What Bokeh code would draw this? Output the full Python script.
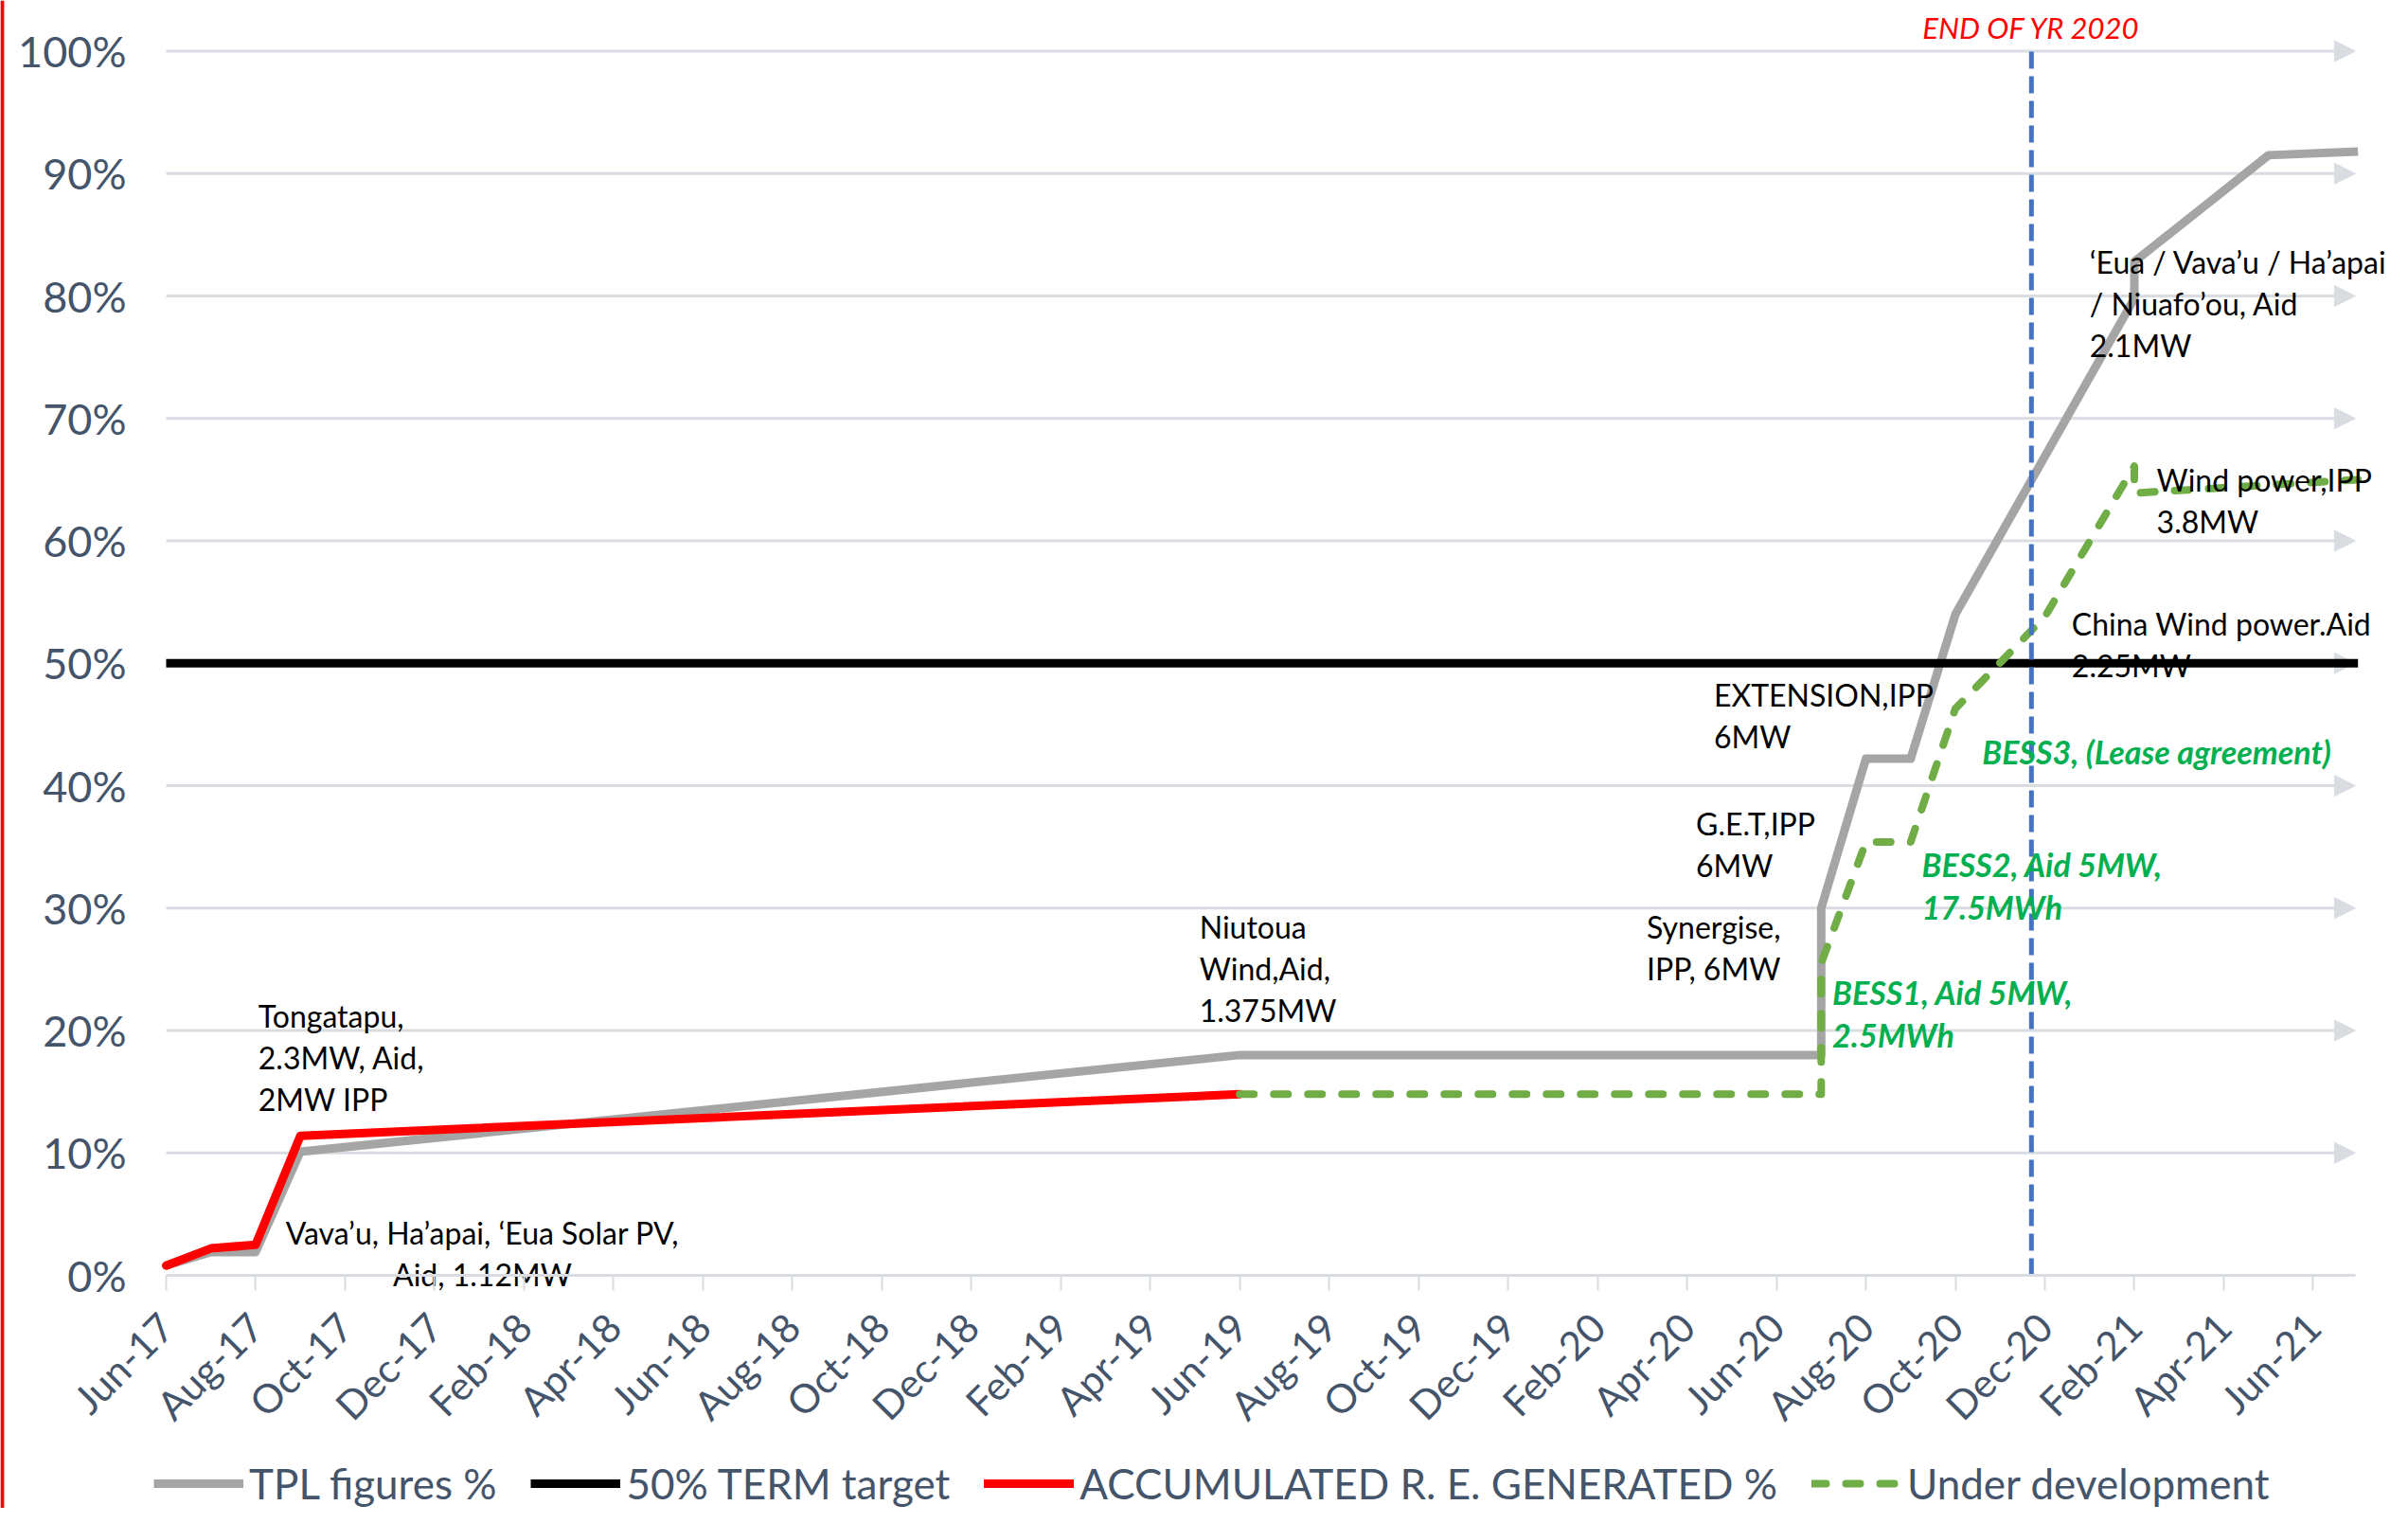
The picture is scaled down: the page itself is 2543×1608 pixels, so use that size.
import math
from bokeh.plotting import figure
from bokeh.models import (ColumnDataSource, Legend, LegendItem, FixedTicker,
                          Range1d, Arrow, NormalHead, Span)
from bokeh.core.properties import value
from bokeh.embed import file_html
from bokeh.resources import INLINE

# ---------------- data ----------------
tick_labels = ["Jun-17", "Aug-17", "Oct-17", "Dec-17", "Feb-18", "Apr-18", "Jun-18",
               "Aug-18", "Oct-18", "Dec-18", "Feb-19", "Apr-19", "Jun-19", "Aug-19",
               "Oct-19", "Dec-19", "Feb-20", "Apr-20", "Jun-20", "Aug-20", "Oct-20",
               "Dec-20", "Feb-21", "Apr-21", "Jun-21"]
tick_months = [2 * i for i in range(len(tick_labels))]   # months since Jun-17
y_ticks = [0, 10, 20, 30, 40, 50, 60, 70, 80, 90, 100]

# TPL figures %
tpl_month = [0, 1, 2, 3, 24, 37, 37, 38, 39, 40, 44, 44, 47, 49]
tpl_pct = [0.8, 1.9, 1.9, 10.1, 18.0, 18.0, 30.0, 42.2, 42.2, 54.0, 79.8, 82.8, 91.5, 91.8]

# 50% TERM target
target_month = [0, 49]
target_pct = [50, 50]

# ACCUMULATED R. E. GENERATED %
re_month = [0, 1, 2, 3, 24]
re_pct = [0.8, 2.2, 2.5, 11.4, 14.8]

# Under development
dev_month = [24, 37, 37, 38, 39, 40, 42, 44, 44, 49]
dev_pct = [14.8, 14.8, 25.5, 35.4, 35.4, 46.3, 53.8, 66.1, 63.9, 65.0]

end_of_year_month = 41.7

# annotations: (month, pct of first line, lines)
black_notes = [
    (2.06, 21.2, ["Tongatapu,", "2.3MW, Aid,", "2MW IPP"]),
    (23.1, 28.5, ["Niutoua", "Wind,Aid,", "1.375MW"]),
    (33.1, 28.5, ["Synergise,", "IPP, 6MW"]),
    (34.2, 36.9, ["G.E.T,IPP", "6MW"]),
    (34.6, 47.4, ["EXTENSION,IPP", "6MW"]),
    (42.6, 53.2, ["China Wind power.Aid", "2.25MW"]),
    (44.5, 65.0, ["Wind power,IPP", "3.8MW"]),
    (43.0, 82.8, ["\u2018Eua / Vava\u2019u / Ha\u2019apai", "/ Niuafo\u2019ou, Aid", "2.1MW"]),
]
center_note = (7.07, 3.5, ["Vava\u2019u, Ha\u2019apai, \u2018Eua Solar PV,", "Aid, 1.12MW"])
green_notes = [
    (37.25, 23.1, ["BESS1, Aid 5MW,", "2.5MWh"]),
    (39.25, 33.6, ["BESS2, Aid 5MW,", "17.5MWh"]),
    (40.6, 42.8, ["BESS3, (Lease agreement)"]),
]
eoy_label = "END OF YR 2020"
eoy_pct = 101.9

# ---------------- figure ----------------
FONT = "Lato"
TXT = "#44546a"
GRID = "#d9dce1"
W, H = 2527, 1592
x_start, x_end = -3.704, 49.79
y_start, y_end = -19.03, 104.14
grid_end = 48.94

p = figure(width=W, height=H, output_backend="svg", toolbar_location=None,
           x_range=Range1d(x_start, x_end), y_range=Range1d(y_start, y_end),
           min_border=0, min_border_left=0, min_border_right=0,
           min_border_top=0, min_border_bottom=0)
p.outline_line_color = None
p.background_fill_color = "white"
p.border_fill_color = "white"
p.xgrid.visible = False
p.ygrid.visible = False

# red edge line seen at the left of the picture
p.add_layout(Span(location=x_start + 0.04, dimension="height", line_color="#ff0000",
                  line_width=4))

# gridlines with arrow heads
for v in y_ticks[1:]:
    arr = Arrow(x_start=0, y_start=v, x_end=grid_end, y_end=v,
                line_color=GRID, line_width=3,
                end=NormalHead(size=22, fill_color=GRID, line_color=GRID, line_width=1),
                level="underlay")
    p.add_layout(arr)

# axes (drawn at fixed locations inside the frame)
xa = p.xaxis[0]
xa.fixed_location = 0
xa.bounds = (0, grid_end)
xa.ticker = FixedTicker(ticks=tick_months)
xa.major_label_overrides = {m: l for m, l in zip(tick_months, tick_labels)}
xa.major_label_orientation = math.pi / 4
xa.axis_line_color = GRID
xa.axis_line_width = 3
xa.major_tick_line_color = GRID
xa.major_tick_line_width = 2
xa.major_tick_out = 16
xa.major_tick_in = 0
xa.minor_tick_line_color = None
xa.major_label_standoff = 31
xa.major_label_text_font = FONT
xa.major_label_text_font_size = "42px"
xa.major_label_text_color = TXT

ya = p.yaxis[0]
ya.fixed_location = 0
ya.bounds = (0, 100)
ya.ticker = FixedTicker(ticks=y_ticks)
ya.major_label_overrides = {v: f"{v}%" for v in y_ticks}
ya.axis_line_color = None
ya.major_tick_line_color = None
ya.minor_tick_line_color = None
ya.major_tick_out = 0
ya.major_tick_in = 0
ya.major_label_standoff = 42
ya.major_label_text_font = FONT
ya.major_label_text_font_size = "45px"
ya.major_label_text_color = TXT

# series
r_tpl = p.line(tpl_month, tpl_pct, line_color="#a5a5a5", line_width=9, line_join="round")
r_tgt = p.line(target_month, target_pct, line_color="black", line_width=9)
r_re = p.line(re_month, re_pct, line_color="#ff0000", line_width=9, line_join="round",
              line_cap="round")
r_dev = p.line(dev_month, dev_pct, line_color="#70ad47", line_width=8, line_dash="15 21",
               line_cap="round", line_join="round")
p.line([end_of_year_month, end_of_year_month], [0, 100], line_color="#4472c4",
       line_width=5, line_dash="18 8")

# annotations
def note_source(notes, gap):
    xs, ys, ts, offs = [], [], [], []
    for mx, py, lines in notes:
        for i, t in enumerate(lines):
            xs.append(mx); ys.append(py); ts.append(t); offs.append(i * gap)
    return ColumnDataSource(dict(x=xs, y=ys, text=ts, off=offs))

p.text(x="x", y="y", text="text", y_offset="off", source=note_source(black_notes, 44),
       text_font=value(FONT), text_font_size=value("32px"), text_color="black",
       text_align="left", text_baseline="middle")
p.text(x="x", y="y", text="text", y_offset="off", source=note_source([center_note], 44),
       text_font=value(FONT), text_font_size=value("32px"), text_color="black",
       text_align="center", text_baseline="middle")
p.text(x="x", y="y", text="text", y_offset="off", source=note_source(green_notes, 45),
       text_font=value(FONT), text_font_size=value("34px"), text_color="#00b050",
       text_font_style="bold italic", text_align="left", text_baseline="middle")
p.text(x=[end_of_year_month], y=[eoy_pct], text=[eoy_label],
       text_font=value(FONT), text_font_size=value("31px"), text_color="#ff0000",
       text_font_style="italic", text_align="center", text_baseline="middle")

# legend
legend = Legend(items=[
    LegendItem(label="TPL figures %", renderers=[r_tpl]),
    LegendItem(label="50% TERM target", renderers=[r_tgt]),
    LegendItem(label="ACCUMULATED R. E. GENERATED %", renderers=[r_re]),
    LegendItem(label="Under development", renderers=[r_dev]),
], orientation="horizontal", location=(162, 0))
legend.glyph_width = 95
legend.glyph_height = 40
legend.label_standoff = 6
legend.spacing = 36
legend.padding = 0
legend.margin = 0
legend.border_line_color = None
legend.background_fill_alpha = 0
legend.label_text_font = FONT
legend.label_text_font_size = "44px"
legend.label_text_color = TXT
p.add_layout(legend)

open("out.html", "w").write(file_html(p, INLINE))
